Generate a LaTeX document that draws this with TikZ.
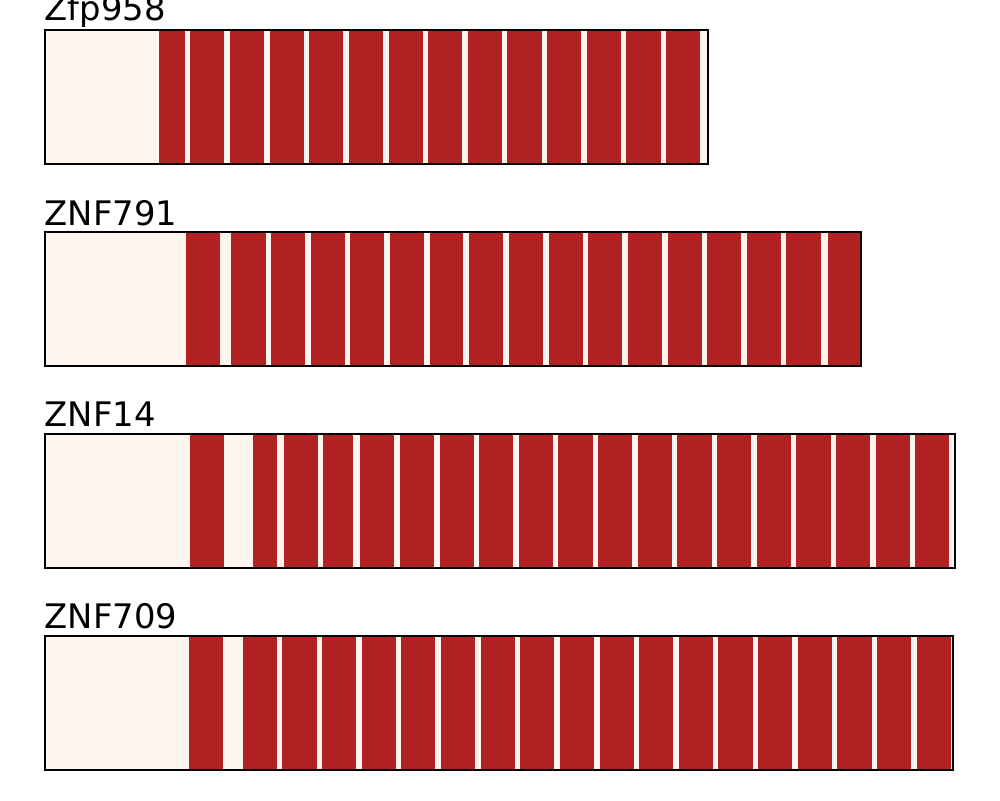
\documentclass[tikz,border=0pt]{standalone}
\usepackage{fontspec}
\newfontfamily\labelfont{DejaVu Sans}
\definecolor{segred}{HTML}{B22222}
\definecolor{cream}{HTML}{FFF5EE}
\tikzset{
  seg/.style={fill=segred, draw=none},
  bar/.style={fill=cream, draw=none},
  barframe/.style={draw=black, line width=2.3pt},
  protlabel/.style={anchor=base west, inner sep=0pt, font=\labelfont\fontsize{33.8}{40}\selectfont}
}
\begin{document}
\begin{tikzpicture}[x=1pt,y=-1pt]
\useasboundingbox (0,0) rectangle (1000,800);
% Row 1
\fill[bar] (45,30) rectangle (708,164);
\foreach \a/\b in {159.3/184.7,190/223.7,230/263.7,270/304,309.3/342.7,349.3/382.7,389/422.7,428.3/462,468.3/502,507.3/541.7,547.3/581,587.3/620.7,626.3/660.7,666.3/700}
  \fill[seg] (\a,30) rectangle (\b,164);
\draw[barframe] (45,30) rectangle (708,164);
\node[protlabel] (l1) at (44.5,21) {Zfp958};
% Row 2
\fill[bar] (45,232) rectangle (861,366);
\foreach \a/\b in {186/220,231/266,271/305,311/345,350/384,390/424,430/463.3,469/503,509/543,549/583,588/622,628/662,668/702,707/741,747/781,786/821,828/861}
  \fill[seg] (\a,232) rectangle (\b,366);
\draw[barframe] (45,232) rectangle (861,366);
\node[protlabel] (l2) at (44.5,225) {ZNF791};
% Row 3
\fill[bar] (45,434) rectangle (955,568);
\foreach \a/\b in {190/223.7,253.3/277.3,284/318,323/353,360/394,400/434,440/474,479/512.7,519/553,558/593,598/632,638/672,677/712,717/751,757/791,796/831,836/870,876/910,915/949}
  \fill[seg] (\a,434) rectangle (\b,568);
\draw[barframe] (45,434) rectangle (955,568);
\node[protlabel] (l3) at (44.5,426) {ZNF14};
% Row 4
\fill[bar] (45,636) rectangle (953,770);
\foreach \a/\b in {189/222.7,243/277,282/317,322/356,362/396,401/435,441/475,481/515,520/554,560/594,600/634,639/673,679/713,718/753,758/792,798/832,837/872,877/911,917/951}
  \fill[seg] (\a,636) rectangle (\b,770);
\draw[barframe] (45,636) rectangle (953,770);
\node[protlabel] (l4) at (44.5,628) {ZNF709};
\end{tikzpicture}
\end{document}
